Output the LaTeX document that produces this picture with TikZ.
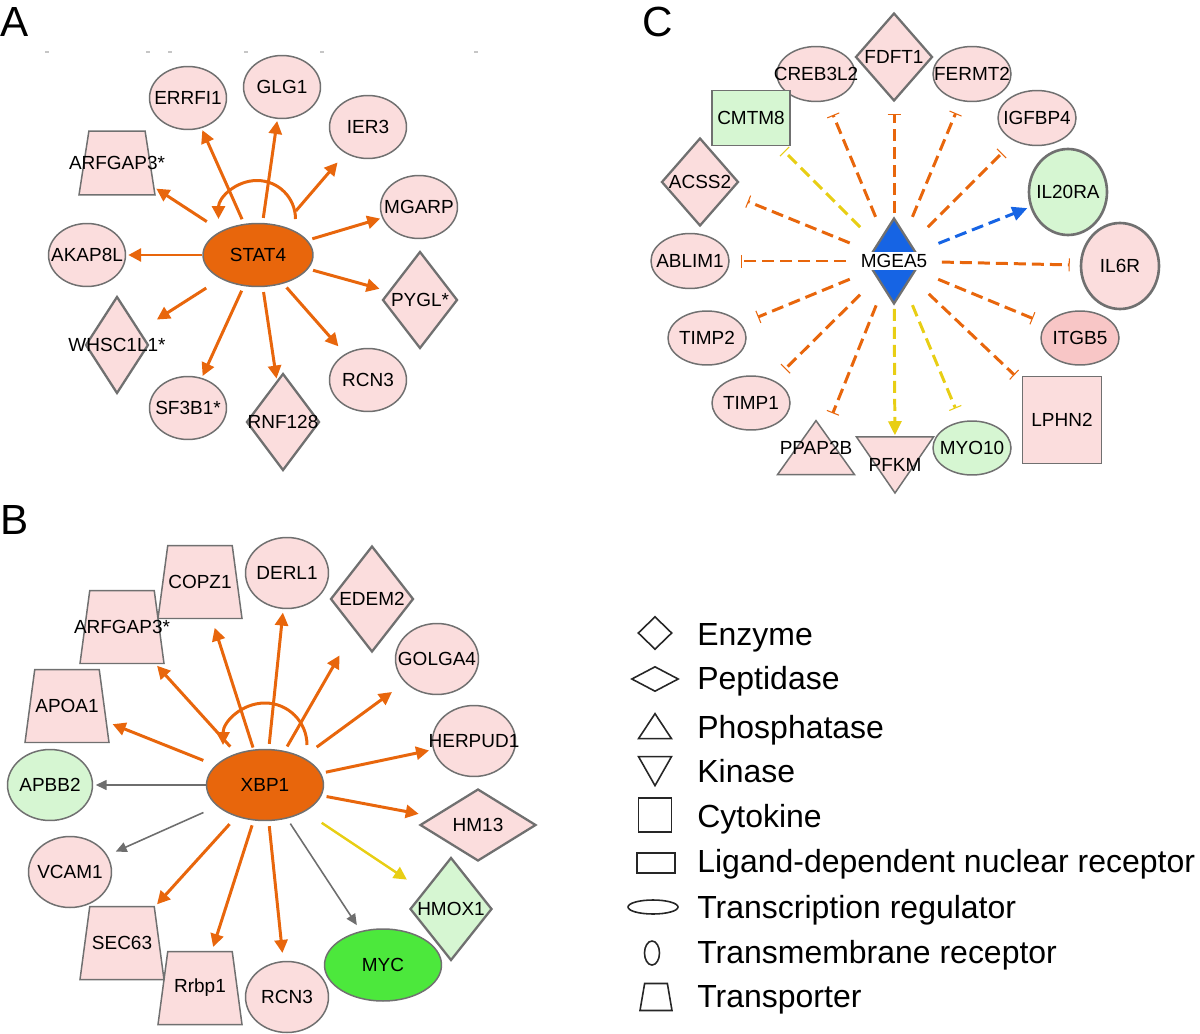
\documentclass[tikz,border=0pt]{standalone}
\usepackage{fontspec}
\setmainfont{Liberation Sans}
\usetikzlibrary{shapes.geometric,arrows.meta}

\definecolor{genepink}{RGB}{251,221,221}
\definecolor{genegreen}{RGB}{214,246,210}
\definecolor{mycgreen}{RGB}{76,232,60}
\definecolor{itgbpink}{RGB}{248,198,198}
\definecolor{regorange}{RGB}{232,102,12}
\definecolor{edgegrey}{RGB}{110,110,110}
\definecolor{edgeyellow}{RGB}{232,206,20}
\definecolor{edgeblue}{RGB}{22,100,228}
\definecolor{shapegrey}{RGB}{112,112,112}

\newcommand{\genefont}{\fontsize{10.8}{12}\selectfont}
\newcommand{\legfont}{\fontsize{18.2}{20}\selectfont}

\begin{document}
\begin{tikzpicture}[x=0.02cm,y=-0.02cm]
\tikzstyle{every node}+=[inner sep=0pt]
\tikzstyle{every label}=[font=\genefont,text=black]
\tikzstyle{gene}=[draw=shapegrey,line width=0.85pt,fill=genepink,inner sep=0.5pt]
\tikzstyle{ell}=[gene,ellipse]
\tikzstyle{aell}=[ell,minimum width=1.54cm,minimum height=1.26cm]
\tikzstyle{bell}=[ell,minimum width=1.66cm,minimum height=1.42cm]
\tikzstyle{cell}=[ell,minimum width=1.56cm,minimum height=1.08cm]
\tikzstyle{dia}=[gene,diamond,line width=1.3pt]
\tikzstyle{transpa}=[gene,trapezium,trapezium stretches=true,trapezium left angle=80,trapezium right angle=80,minimum width=1.52cm,minimum height=1.28cm]
\tikzstyle{transpb}=[gene,trapezium,trapezium stretches=true,trapezium left angle=81.4,trapezium right angle=81.4,minimum width=1.68cm,minimum height=1.46cm]
\tikzstyle{hub}=[circle,minimum size=1.9cm]
\tikzstyle{act}=[draw=regorange,line width=1.7pt,-{Triangle[length=0.26cm,width=0.26cm]},shorten <=0.1cm,shorten >=0.04cm]
\tikzstyle{selfloop}=[draw=regorange,line width=1.7pt,-{Triangle[length=0.26cm,width=0.26cm]}]
\tikzstyle{grey}=[draw=edgegrey,line width=0.9pt,-{Triangle[length=0.22cm,width=0.2cm]}]
\tikzstyle{yel}=[draw=edgeyellow,line width=1.4pt,-{Triangle[length=0.26cm,width=0.26cm]}]
\tikzstyle{inh}=[draw=regorange,line width=1.7pt,dash pattern=on 0.24cm off 0.12cm,-{Bar[width=0.26cm,line width=0.6pt]},shorten >=0.24cm]
\tikzstyle{inhyel}=[inh,draw=edgeyellow]
\tikzstyle{dashyel}=[draw=edgeyellow,line width=1.7pt,dash pattern=on 0.24cm off 0.12cm,-{Triangle[length=0.28cm,width=0.26cm]}]
\tikzstyle{dashblue}=[draw=edgeblue,line width=1.7pt,dash pattern=on 0.24cm off 0.12cm,-{Triangle[length=0.3cm,width=0.28cm]}]
\tikzstyle{legsym}=[draw=black!85,line width=0.9pt,fill=white,inner sep=0.5pt]
\tikzstyle{legtext}=[anchor=base west,font=\legfont]
\tikzstyle{panel}=[anchor=base west,font=\fontsize{24}{26}\selectfont]

\useasboundingbox (0,0) rectangle (1200,1034);

\node[panel] (panela) at (0,37) {A};
\node[panel] (panelb) at (0,534) {B};
\node[panel] (panelc) at (642,37) {C};
\foreach \x in {47,148,170,246,322,476}
  \draw[gray!45,line width=0.6pt] (\x-2,52) -- (\x+2,52);

\node[ell,fill=regorange,minimum width=2.2cm,minimum height=1.26cm,label=center:STAT4] (stat4) at (258,255) {};
\node[aell,label=center:ERRFI1] (errfi1) at (188,98) {};
\node[aell,label=center:GLG1] (glg1) at (282,87) {};
\node[aell,label=center:IER3] (ier3) at (368,127) {};
\node[aell,label=center:MGARP] (mgarp) at (419,207) {};
\node[dia,minimum width=1.5cm,minimum height=1.94cm,label=center:PYGL*] (pygl) at (420,300) {};
\node[aell,label=center:RCN3] (rcn3a) at (368,380) {};
\node[dia,minimum width=1.46cm,minimum height=1.94cm,label=center:RNF128] (rnf128) at (283,422) {};
\node[aell,label=center:SF3B1*] (sf3b1) at (188,408) {};
\node[dia,minimum width=1.26cm,minimum height=1.94cm,label=center:WHSC1L1*] (whsc1l1) at (117,345) {};
\node[aell,label=center:AKAP8L] (akap8l) at (87,255) {};
\node[transpa,label=center:ARFGAP3*] (arfgap3a) at (117,163) {};

\draw[act] (stat4) -- (errfi1);
\draw[act] (stat4) -- (glg1);
\draw[act,shorten <=0.4cm,shorten >=0.24cm] (stat4) -- (ier3);
\draw[act] (stat4) -- (mgarp);
\draw[act,shorten >=0.18cm] (stat4) -- (pygl);
\draw[act,shorten >=0.2cm] (stat4) -- (rcn3a);
\draw[act] (stat4) -- (rnf128);
\draw[act] (stat4) -- (sf3b1);
\draw[act,shorten <=0.34cm,shorten >=0.4cm] (stat4) -- (whsc1l1);
\draw[act,shorten <=0cm] (stat4) -- (akap8l);
\draw[act,shorten <=0.34cm] (stat4) -- (arfgap3a);
\draw[selfloop] ([shift={(37.5,-36)}]stat4.center) arc[start angle=0,end angle=-180,radius=38.5];

\node[ell,fill=regorange,minimum width=2.34cm,minimum height=1.42cm,label=center:XBP1] (xbp1) at (265,785) {};
\node[transpb,label=center:COPZ1] (copz1) at (200,582) {};
\node[bell,label=center:DERL1] (derl1) at (287,573) {};
\node[dia,minimum width=1.66cm,minimum height=2.12cm,label=center:EDEM2] (edem2) at (372,599) {};
\node[bell,label=center:GOLGA4] (golga4) at (437,659) {};
\node[bell,label=center:HERPUD1] (herpud1) at (474,741) {};
\node[dia,minimum width=2.32cm,minimum height=1.44cm,label=center:HM13] (hm13) at (478,825) {};
\node[dia,fill=genegreen,minimum width=1.64cm,minimum height=2.06cm,label=center:HMOX1] (hmox1) at (451,909) {};
\node[ell,fill=mycgreen,minimum width=2.34cm,minimum height=1.44cm,label=center:MYC] (myc) at (383,965) {};
\node[bell,label=center:RCN3] (rcn3b) at (287,997) {};
\node[transpb,label=center:Rrbp1] (rrbp1) at (200,988) {};
\node[transpb,label=center:SEC63] (sec63) at (122,943) {};
\node[bell,label=center:VCAM1] (vcam1) at (70,872) {};
\node[bell,fill=genegreen,minimum width=1.7cm,label=center:APBB2] (apbb2) at (50,785) {};
\node[transpb,label=center:APOA1] (apoa1) at (67,706) {};
\node[transpb,label=center:ARFGAP3*] (arfgap3b) at (122,627) {};

\draw[act,shorten <=0.04cm,shorten >=0.18cm] (xbp1) -- (copz1);
\draw[act,shorten >=0.07cm] (xbp1) -- (derl1);
\draw[act,shorten >=0.58cm] (xbp1) -- (edem2);
\draw[act,shorten <=0.34cm,shorten >=0.32cm] (xbp1) -- (golga4);
\draw[act,shorten >=0.08cm] (xbp1) -- (herpud1);
\draw[act,shorten >=0.28cm] (xbp1) -- (hm13);
\draw[yel,shorten <=0.4cm,shorten >=0.4cm] (xbp1) -- (hmox1);
\draw[grey,shorten <=0.12cm,shorten >=0.14cm] (xbp1) -- (myc);
\draw[act,shorten >=0.16cm] (xbp1) -- (rcn3b);
\draw[act,shorten >=0.08cm] (xbp1) -- (rrbp1);
\draw[act,shorten <=0.2cm,shorten >=0.06cm] (xbp1) -- (sec63);
\draw[grey,shorten <=0.3cm,shorten >=0.18cm] (xbp1) -- (vcam1);
\draw[grey,shorten >=0.05cm] (xbp1) -- (apbb2);
\draw[act,shorten <=0.26cm,shorten >=0.12cm] (xbp1) -- (apoa1);
\draw[act,shorten <=0.18cm,shorten >=0.04cm] (xbp1) -- (arfgap3b);
\draw[selfloop] ([shift={(42,-40)}]xbp1.center) arc[start angle=0,end angle=-180,radius=42];

\node[hub] (mgea5) at (894,261) {};
\node[dia,fill=edgeblue,minimum width=1.1cm,minimum height=1.72cm] (mgea5shape) at (mgea5) {};
\node[dia,minimum width=1.54cm,minimum height=1.76cm,label=center:FDFT1] (fdft1) at (894,57) {};
\node[cell,minimum height=1.1cm,label=center:CREB3L2] (creb3l2) at (816,74) {};
\node[cell,minimum height=1.1cm,label=center:FERMT2] (fermt2) at (972,74) {};
\node[cell,minimum height=1.1cm,label=center:IGFBP4] (igfbp4) at (1037,118) {};
\node[cell,fill=genegreen,line width=1.5pt,minimum height=1.72cm,label=center:IL20RA] (il20ra) at (1068,192) {};
\node[cell,line width=1.5pt,minimum height=1.72cm,label=center:IL6R] (il6r) at (1120,266) {};
\node[cell,fill=itgbpink,label=center:ITGB5] (itgb5) at (1080,338) {};
\node[gene,rectangle,minimum width=1.58cm,minimum height=1.74cm,label=center:LPHN2] (lphn2) at (1062,420) {};
\node[cell,fill=genegreen,label=center:MYO10] (myo10) at (972,448) {};
\node[gene,isosceles triangle,isosceles triangle stretches,shape border rotate=270,minimum width=1.54cm,minimum height=1.12cm] (pfkm) at (895,457) {};
\node[gene,isosceles triangle,isosceles triangle stretches,shape border rotate=90,minimum width=1.54cm,minimum height=1.08cm] (ppap2b) at (816,455) {};
\node[cell,label=center:TIMP1] (timp1) at (751,403) {};
\node[cell,label=center:TIMP2] (timp2) at (707,338) {};
\node[cell,minimum height=1.1cm,label=center:ABLIM1] (ablim1) at (690,261) {};
\node[dia,minimum width=1.54cm,minimum height=1.76cm,label=center:ACSS2] (acss2) at (700,182) {};
\node[gene,rectangle,fill=genegreen,minimum width=1.56cm,minimum height=1.1cm,label=center:CMTM8] (cmtm8) at (751,118) {};
\node[font=\genefont] (pfkmlabel) at (895,465) {PFKM};
\node[font=\genefont] (ppap2blabel) at (816,448) {PPAP2B};

\draw[inh] (mgea5) -- (fdft1);
\draw[inh,shorten >=0.3cm] (mgea5) -- (creb3l2);
\draw[inh,shorten >=0.26cm] (mgea5) -- (fermt2);
\draw[inh,shorten >=0.34cm] (mgea5) -- (igfbp4);
\draw[dashblue,shorten >=0.06cm] (mgea5) -- (il20ra);
\draw[inh,shorten >=0.2cm] (mgea5) -- (il6r);
\draw[inh,shorten >=0.28cm] (mgea5) -- (itgb5);
\draw[inh,shorten >=0.2cm] (mgea5) -- (lphn2);
\draw[inhyel,shorten >=0.28cm] (mgea5) -- (myo10);
\draw[dashyel,shorten >=0.02cm] (mgea5) -- (pfkm);
\draw[inh,shorten >=0.4cm] (mgea5) -- (ppap2b);
\draw[inh,shorten >=0.32cm] (mgea5) -- (timp1);
\draw[inh,shorten >=0.36cm] (mgea5) -- (timp2);
\draw[inh,shorten >=0.22cm] (mgea5) -- (ablim1);
\draw[inh,shorten >=0.4cm] (mgea5) -- (acss2);
\draw[inhyel,shorten >=0.14cm] (mgea5) -- (cmtm8);
\node[fill=white,font=\genefont,inner xsep=0.1cm,minimum height=0.36cm] (mgea5label) at (mgea5) {MGEA5};

\node[legsym,diamond,minimum width=0.68cm,minimum height=0.66cm] (legenzyme) at (655,633) {};
\node[legtext] (txtenzyme) at (697,645.5) {Enzyme};
\node[legsym,diamond,minimum width=0.94cm,minimum height=0.5cm] (legpeptidase) at (655,679) {};
\node[legtext] (txtpeptidase) at (697,689.5) {Peptidase};
\node[legsym,isosceles triangle,isosceles triangle stretches,shape border rotate=90,minimum width=0.66cm,minimum height=0.5cm] (legphosphatase) at (655,730) {};
\node[legtext] (txtphosphatase) at (697,738.5) {Phosphatase};
\node[legsym,isosceles triangle,isosceles triangle stretches,shape border rotate=270,minimum width=0.66cm,minimum height=0.58cm] (legkinase) at (655,766) {};
\node[legtext] (txtkinase) at (697,782.5) {Kinase};
\node[legsym,rectangle,minimum width=0.66cm,minimum height=0.68cm] (legcytokine) at (655,815) {};
\node[legtext] (txtcytokine) at (697,827.5) {Cytokine};
\node[legsym,rectangle,minimum width=0.76cm,minimum height=0.4cm] (legligand) at (656,863) {};
\node[legtext] (txtligand) at (697,872.5) {Ligand-dependent nuclear receptor};
\node[legsym,ellipse,minimum width=1.0cm,minimum height=0.28cm] (legtranscription) at (653,907) {};
\node[legtext] (txttranscription) at (697,918.5) {Transcription regulator};
\node[legsym,ellipse,minimum width=0.3cm,minimum height=0.48cm] (legtransmembrane) at (652,953) {};
\node[legtext] (txttransmembrane) at (697,963.5) {Transmembrane receptor};
\node[legsym,trapezium,trapezium stretches=true,trapezium left angle=78.5,trapezium right angle=78.5,minimum width=0.64cm,minimum height=0.54cm] (legtransporter) at (656,997) {};
\node[legtext] (txttransporter) at (697,1007.5) {Transporter};
\end{tikzpicture}
\end{document}
